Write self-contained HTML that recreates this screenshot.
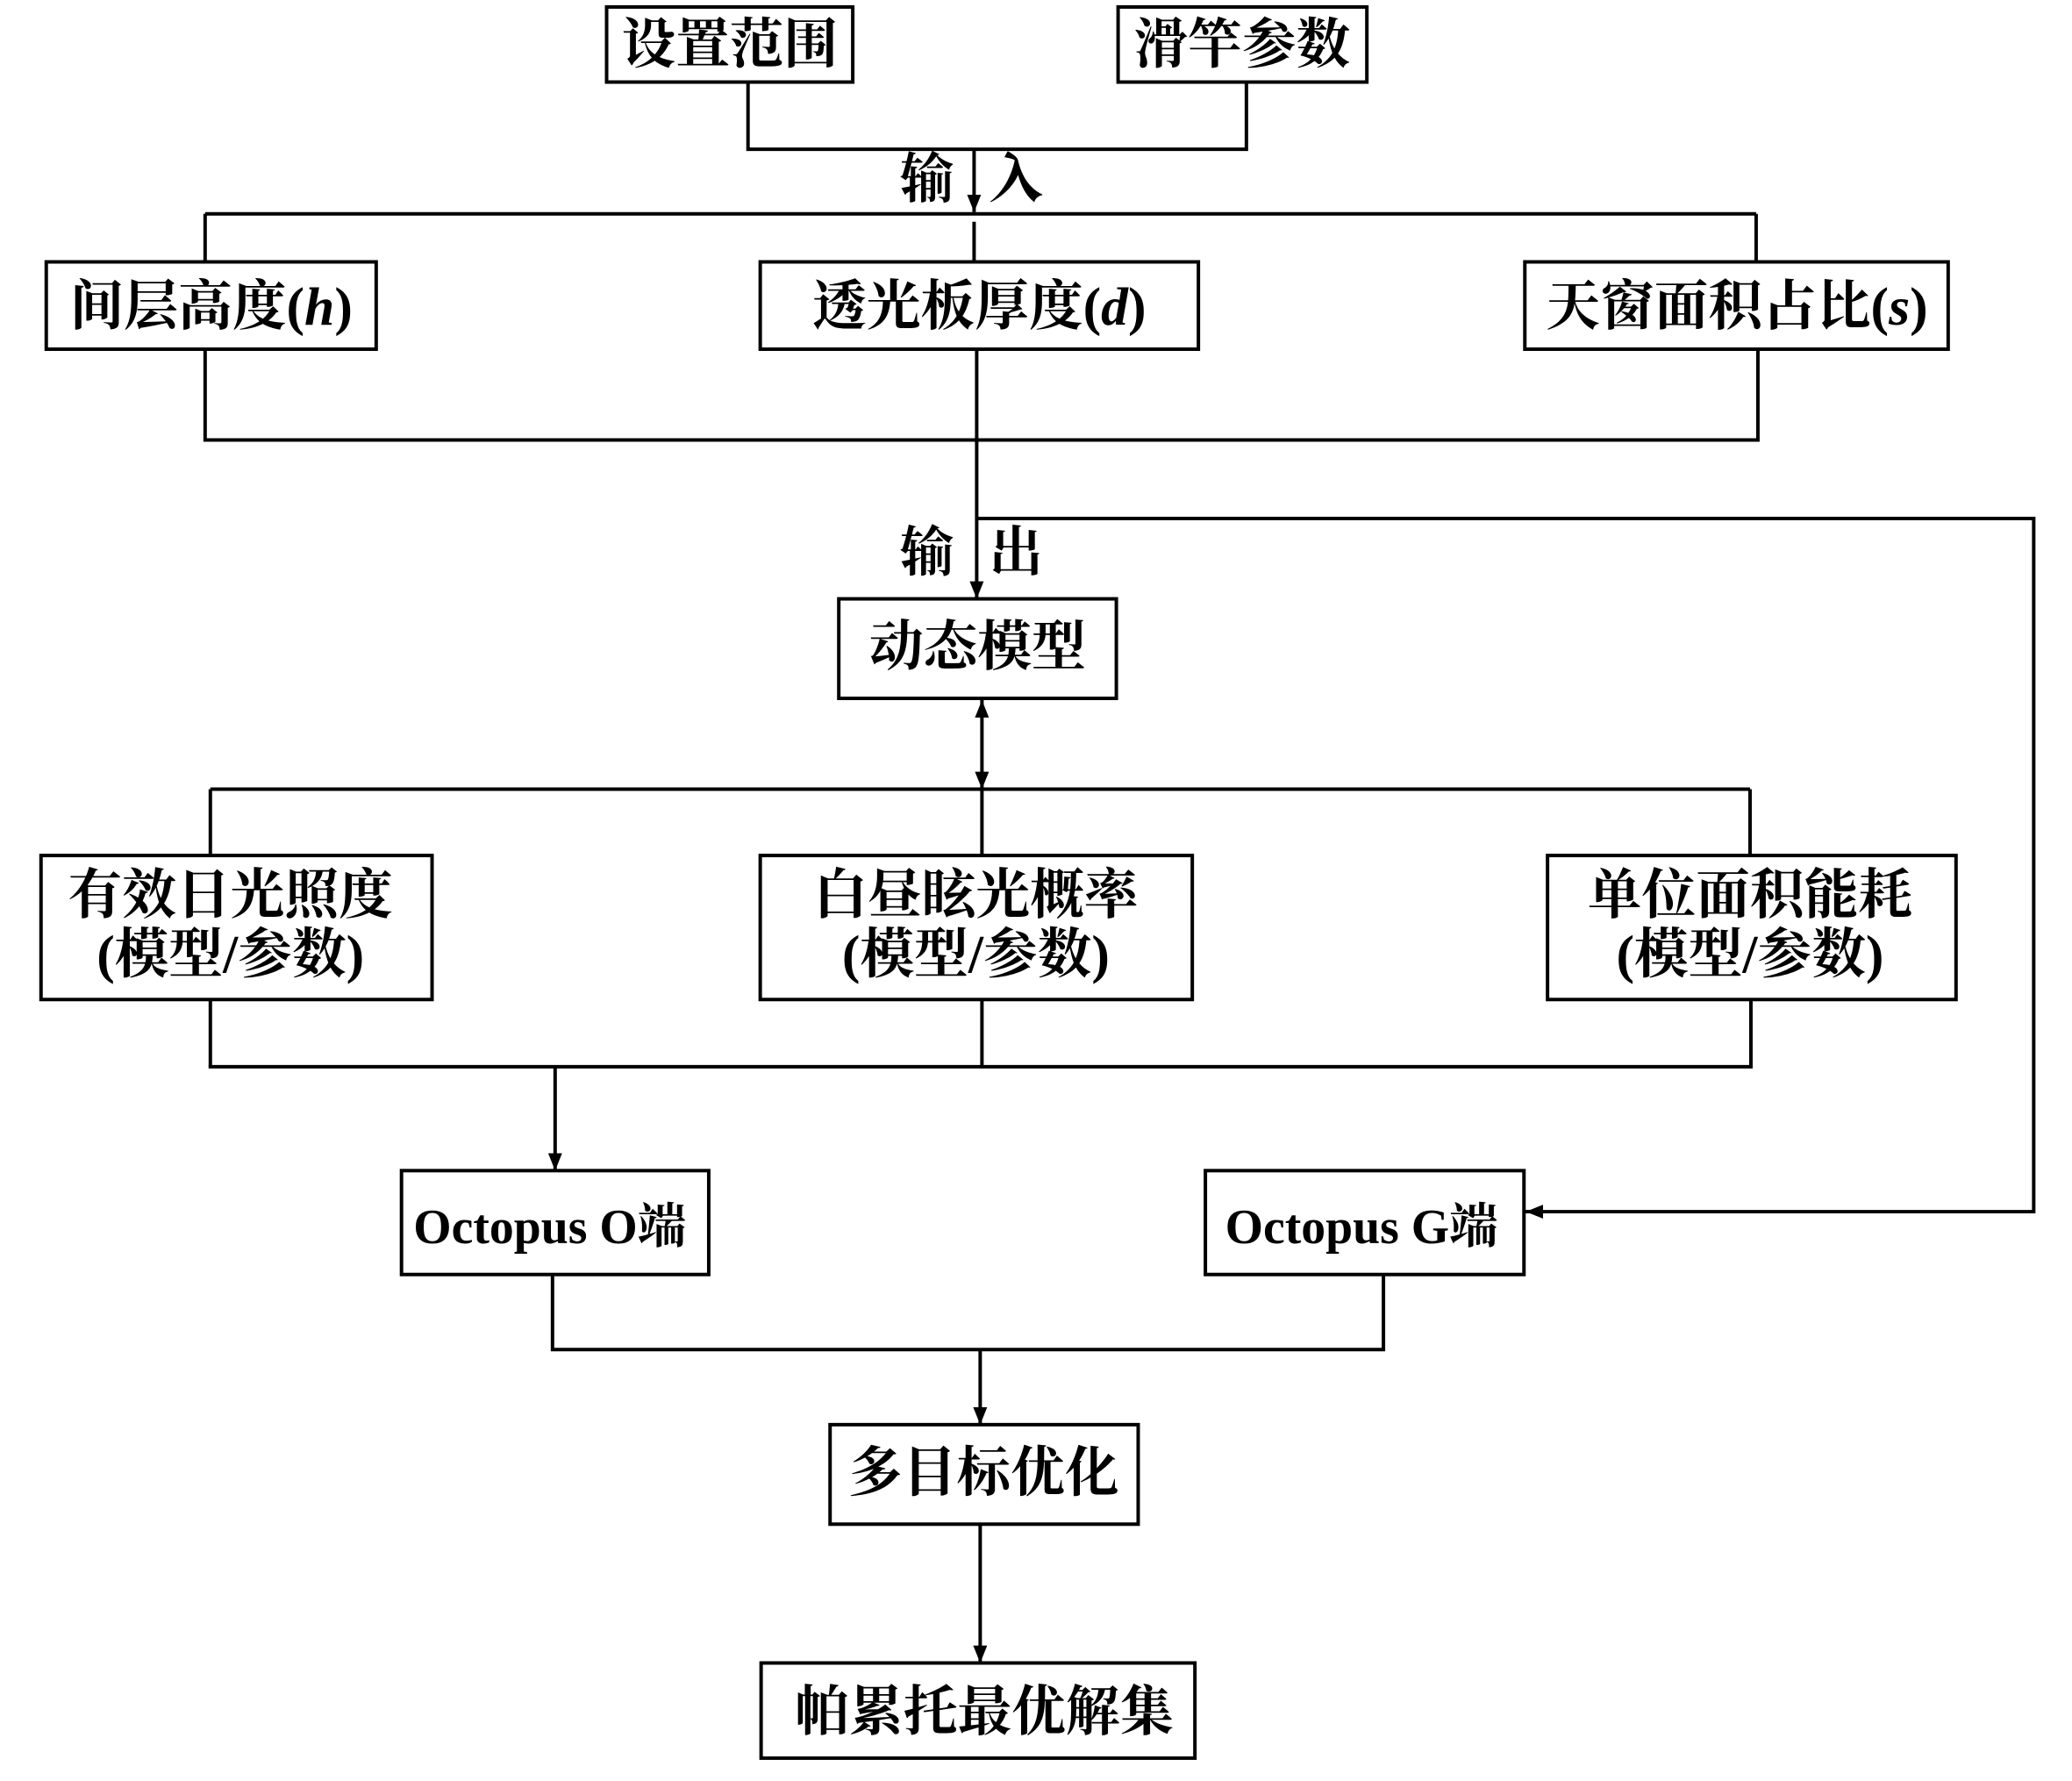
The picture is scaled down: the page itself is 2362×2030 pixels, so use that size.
<!DOCTYPE html>
<html><head><meta charset="utf-8"><style>
html,body{margin:0;padding:0;background:#fff;}
svg{display:block;}
text{font-family:"Liberation Serif","Noto Serif CJK SC",serif;font-weight:bold;fill:#000;text-anchor:middle;}
</style></head><body>
<svg width="2362" height="2030" viewBox="0 0 2362 2030" xmlns="http://www.w3.org/2000/svg">
<defs>
<marker id="ah" viewBox="0 0 10 10" refX="10" refY="5" markerWidth="20" markerHeight="20" orient="auto-start-reverse" markerUnits="userSpaceOnUse"><path d="M0,1 L10,5 L0,9 z" fill="#000"/></marker>
</defs>
<g transform="scale(0.995)">
<g stroke="#000" stroke-width="4" fill="none">
<rect x="695" y="8" width="282" height="86"/>
<rect x="1281" y="8" width="285" height="86"/>
<polyline points="857,94 857,171 1428,171 1428,94"/>
<line x1="1116" y1="171" x2="1116" y2="243" marker-end="url(#ah)"/>
<line x1="235" y1="245" x2="2012" y2="245"/>
<line x1="235" y1="245" x2="235" y2="300"/>
<line x1="2012" y1="245" x2="2012" y2="300"/>
<line x1="1116" y1="254" x2="1116" y2="300"/>
<rect x="53" y="300" width="378" height="100"/>
<rect x="871" y="300" width="502" height="100"/>
<rect x="1747" y="300" width="485" height="100"/>
<polyline points="235,400 235,504 2014,504 2014,400"/>
<line x1="1119" y1="400" x2="1119" y2="686" marker-end="url(#ah)"/>
<polyline points="1119,594 2330,594 2330,1388 1748,1388" />
<line x1="1760" y1="1388" x2="1748" y2="1388" marker-end="url(#ah)"/>
<rect x="961" y="686" width="318" height="114"/>
<line x1="1125" y1="802" x2="1125" y2="904" marker-end="url(#ah)" marker-start="url(#ah)"/>
<line x1="241" y1="904" x2="2005" y2="904"/>
<line x1="241" y1="904" x2="241" y2="980"/>
<line x1="1125" y1="904" x2="1125" y2="980"/>
<line x1="2005" y1="904" x2="2005" y2="980"/>
<rect x="47" y="980" width="448" height="165"/>
<rect x="871" y="980" width="495" height="165"/>
<rect x="1773" y="980" width="468" height="165"/>
<line x1="241" y1="1145" x2="241" y2="1222"/>
<line x1="1125" y1="1145" x2="1125" y2="1222"/>
<line x1="2006" y1="1145" x2="2006" y2="1222"/>
<line x1="239" y1="1222" x2="2008" y2="1222"/>
<line x1="636" y1="1222" x2="636" y2="1341" marker-end="url(#ah)"/>
<rect x="460" y="1341" width="352" height="119"/>
<rect x="1381" y="1341" width="365" height="119"/>
<polyline points="633,1460 633,1546 1585,1546 1585,1460"/>
<line x1="1123" y1="1546" x2="1123" y2="1632" marker-end="url(#ah)"/>
<rect x="951" y="1632" width="353" height="114"/>
<line x1="1123" y1="1746" x2="1123" y2="1905" marker-end="url(#ah)"/>
<rect x="872" y="1905" width="497" height="109"/>
</g>
<g font-size="62">
<text x="836" y="72">设置范围</text>
<text x="1423" y="72">滑竿参数</text>
<text x="1062" y="226">输</text>
<text x="1164" y="226">入</text>
<text x="242" y="372">间层高度(<tspan font-style="italic">h</tspan>)</text>
<text x="1122" y="372">透光板厚度(<tspan font-style="italic">d</tspan>)</text>
<text x="1990" y="372">天窗面积占比(<tspan font-style="italic">s</tspan>)</text>
<text x="1062" y="654">输</text>
<text x="1164" y="654">出</text>
<text x="1120" y="762">动态模型</text>
<text x="264" y="1046">有效日光照度</text>
<text x="264" y="1114">(模型/参数)</text>
<text x="1118" y="1046">白昼眩光概率</text>
<text x="1118" y="1114">(模型/参数)</text>
<text x="2005" y="1046">单位面积能耗</text>
<text x="2005" y="1114">(模型/参数)</text>
<text x="630" y="1424" font-size="56">Octopus O端</text>
<text x="1560" y="1424" font-size="56">Octopus G端</text>
<text x="1127" y="1708">多目标优化</text>
<text x="1128" y="1982">帕累托最优解集</text>
</g>
</g>
</svg>
</body></html>
